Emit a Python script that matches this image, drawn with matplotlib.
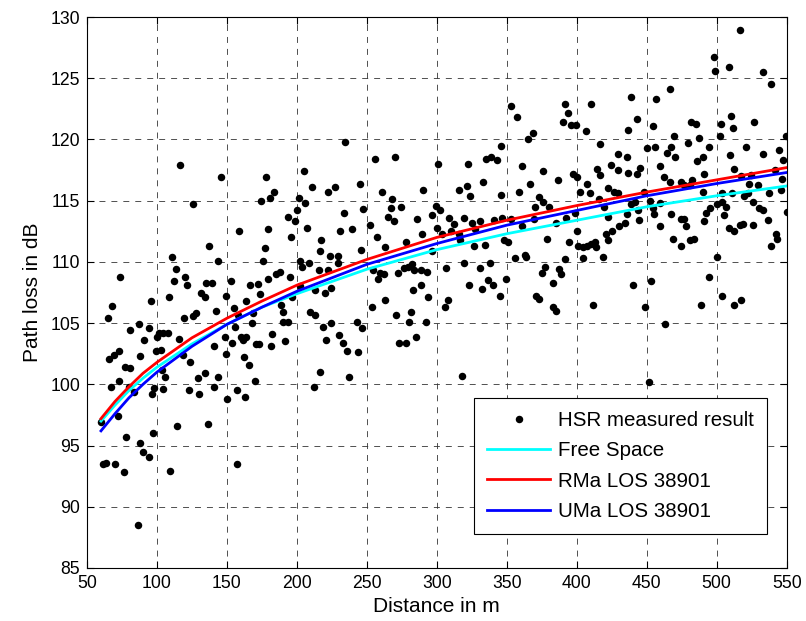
import numpy as np
import matplotlib.pyplot as plt

plt.rcParams['font.family'] = ['Liberation Sans', 'DejaVu Sans']
plt.rcParams['lines.scale_dashes'] = False

# measured points (distance in m, path loss in dB)
dist_m = [73.8, 67.9, 64.8, 87.4, 80.5, 90.5, 65.5, 69.0, 72.6, 87.6, 77.4, 80.5, 72.6, 67.1, 79.8, 83.8,
          60.2, 71.9, 78.1, 88.1, 90.0, 61.4, 63.8, 70.2, 76.2, 86.4,
          116.7, 145.7, 126.0, 137.4, 110.7, 143.3, 113.6, 120.2, 112.4, 121.4, 135.0, 139.0, 131.4, 134.3,
          108.8, 95.7, 142.1, 127.9, 125.5, 119.0, 94.5, 101.2, 104.0, 107.6, 100.0, 116.0, 141.0, 99.3,
          102.9, 118.3, 123.8, 103.6, 106.0, 134.5, 129.0, 143.3, 104.0, 141.0, 122.6, 98.0, 96.4, 130.2,
          114.3, 136.2, 96.9, 94.0, 109.5,
          178.1, 183.6, 174.5, 180.5, 193.6, 158.3, 179.3, 195.5, 176.9, 175.7, 187.6, 185.2, 194.8, 179.3,
          152.6, 166.2, 172.1, 149.5, 173.3, 163.8, 188.8, 190.0, 155.0, 168.6, 157.9, 190.0, 193.6, 167.9,
          156.0, 182.4, 159.8, 163.8, 161.4, 148.3, 153.6, 171.0, 172.9, 181.7, 191.7, 149.5, 162.1, 165.5,
          169.8, 157.4, 150.2, 162.6, 157.4,
          234.5, 204.8, 210.7, 222.1, 226.9, 245.2, 201.2, 206.0, 200.0, 198.8, 234.0, 246.9, 207.1, 217.4,
          231.0, 239.3, 246.0, 216.7, 202.4, 208.3, 203.6, 223.8, 229.3, 229.3, 215.5, 222.1, 202.4, 213.1,
          219.8, 224.5, 196.4, 209.5, 213.1, 219.0, 224.5, 221.0, 229.8, 232.6, 235.7, 242.9, 246.4, 244.0,
          216.2, 211.9, 236.9,
          255.8, 269.8, 260.9, 290.2, 267.9, 266.9, 274.4, 265.1, 269.3, 252.3, 286.0, 296.5, 299.5, 301.9,
          300.0, 289.1, 257.0, 263.3, 277.9, 296.5, 254.7, 257.7, 259.3, 262.3, 272.1, 276.7, 279.1, 281.9,
          283.7, 288.4, 293.0, 282.6, 288.4, 293.7, 263.3, 253.5, 270.9, 281.4, 280.2, 292.6, 272.6, 277.9,
          284.9,
          300.7, 322.4, 334.9, 338.5, 343.3, 345.7, 352.9, 332.9, 315.6, 321.6, 324.0, 345.7, 308.4, 312.0,
          319.2, 324.8, 330.5, 327.6, 340.9, 346.9, 303.6, 310.3, 315.6, 316.8, 326.4, 334.4, 348.1, 350.5,
          306.5, 319.2, 330.5, 337.7, 322.8, 336.8, 340.1, 332.0, 349.3, 345.0, 307.9, 305.5, 318.0,
          357.3, 391.5, 393.9, 390.2, 395.6, 399.5, 365.4, 368.8, 360.5, 375.6, 386.6, 366.3, 397.1, 400.5,
          358.5, 402.4, 372.7, 376.1, 380.0, 370.2, 353.2, 360.5, 369.5, 384.9, 392.2, 398.8, 400.0, 378.5,
          394.6, 401.2, 355.6, 362.9, 363.9, 391.5, 377.6, 375.1, 387.3, 389.0, 382.9, 371.2, 373.2, 382.9,
          384.9,
          438.4, 410.5, 406.5, 443.0, 436.7, 416.7, 429.1, 436.0, 450.0, 424.4, 429.8, 436.7, 414.4, 416.7,
          443.0, 445.3, 407.4, 409.3, 422.1, 426.7, 429.1, 447.7, 441.4, 438.4, 415.8, 419.8, 422.1, 436.0,
          434.4, 430.2, 425.1, 422.1, 420.9, 443.7, 444.7, 404.2, 407.0, 409.8, 412.8, 414.0, 418.6, 404.2,
          440.0, 411.6, 448.8, 451.5,
          497.8, 499.0, 466.4, 456.8, 454.8, 481.4, 485.0, 502.7, 502.0, 469.3, 479.5, 487.4, 494.7, 456.0,
          464.5, 467.4, 470.5, 489.9, 485.7, 459.7, 490.6, 462.1, 466.4, 474.2, 476.6, 482.6, 480.9, 489.9,
          452.4, 459.7, 454.8, 455.3, 467.4, 459.7, 474.2, 476.6, 477.8, 468.8, 474.2, 481.1, 483.6, 492.3,
          495.4, 490.6, 500.2, 500.2, 494.7, 489.1, 503.6, 453.0, 463.3,
          516.7, 508.5, 533.1, 539.1, 510.1, 511.8, 526.3, 549.5, 521.0, 509.4, 533.1, 544.7, 547.6, 512.6,
          517.4, 524.6, 522.9, 529.5, 541.5, 546.4, 504.0, 503.5, 510.9, 519.8, 522.2, 537.4, 545.9, 525.8,
          530.2, 533.1, 536.7, 550.0, 506.5, 505.3, 508.9, 512.6, 516.7, 519.1, 525.8, 542.3, 543.2, 539.1,
          512.0, 517.0]
loss_db = [108.8, 106.4, 105.4, 104.9, 104.4, 103.6, 102.1, 102.4, 102.7, 102.3, 101.4, 101.3, 100.3, 99.8, 99.8, 99.4,
           96.9, 97.4, 95.7, 95.2, 94.5, 93.5, 93.6, 93.5, 92.8, 88.5,
           117.9, 116.9, 114.7, 111.3, 110.4, 110.1, 109.4, 108.8, 108.4, 108.1, 108.3, 108.3, 107.5, 107.1,
           107.1, 106.8, 106.0, 105.8, 105.6, 105.4, 104.6, 104.2, 104.2, 104.2, 103.9, 103.7, 103.1, 102.7,
           102.8, 102.4, 101.8, 101.2, 100.6, 100.9, 100.5, 100.6, 99.6, 99.8, 99.5, 99.7, 99.2, 99.2,
           96.6, 96.8, 96.0, 94.1, 92.9,
           116.9, 115.7, 115.0, 115.2, 113.7, 112.5, 112.7, 112.0, 111.1, 110.1, 109.2, 109.0, 108.8, 108.6,
           108.4, 108.1, 108.2, 107.2, 107.4, 106.8, 106.5, 105.9, 106.2, 105.8, 105.7, 105.1, 105.1, 105.0,
           104.7, 104.1, 103.9, 103.9, 103.6, 103.9, 103.4, 103.3, 103.3, 103.1, 103.5, 102.5, 102.2, 101.6,
           100.3, 99.5, 98.8, 99.0, 93.5,
           119.8, 117.4, 116.1, 115.7, 116.1, 116.4, 115.2, 114.8, 114.2, 113.3, 114.0, 114.3, 112.8, 111.8,
           112.5, 112.7, 111.0, 110.9, 110.1, 109.9, 109.6, 110.5, 110.5, 109.9, 109.3, 109.3, 108.0, 107.7,
           107.5, 107.9, 107.1, 105.9, 105.7, 104.7, 105.0, 103.6, 104.0, 103.4, 102.7, 105.1, 104.6, 102.6,
           101.0, 99.8, 100.6,
           118.4, 118.6, 115.7, 115.9, 115.1, 114.4, 114.5, 113.7, 113.3, 113.0, 113.5, 113.8, 114.6, 114.2,
           112.8, 112.3, 112.0, 111.2, 111.6, 110.9, 109.3, 108.6, 109.1, 109.0, 109.1, 109.5, 109.6, 109.8,
           109.3, 109.3, 109.2, 107.7, 108.1, 107.1, 106.9, 106.3, 105.7, 105.9, 105.1, 105.1, 103.4, 103.4,
           103.9,
           118.0, 118.0, 118.4, 118.6, 118.3, 119.5, 122.7, 116.5, 115.9, 116.2, 115.4, 115.5, 113.6, 113.1,
           113.6, 113.2, 113.3, 112.7, 113.4, 113.6, 112.3, 112.5, 112.3, 111.8, 111.3, 111.4, 111.8, 111.6,
           109.5, 109.9, 109.5, 109.9, 108.1, 108.5, 108.1, 107.8, 108.6, 107.2, 106.9, 106.3, 100.7,
           121.8, 122.9, 122.2, 121.4, 121.2, 121.2, 120.0, 120.5, 117.8, 117.4, 116.7, 116.4, 117.2, 116.9,
           115.7, 115.7, 115.3, 114.9, 114.5, 114.5, 113.5, 112.9, 113.5, 113.2, 113.6, 114.0, 112.5, 111.9,
           111.6, 111.3, 110.3, 110.6, 110.4, 110.2, 109.6, 109.1, 109.4, 109.0, 108.3, 107.2, 107.0, 106.3,
           106.0,
           123.5, 122.9, 120.7, 121.7, 120.8, 119.6, 118.8, 118.6, 119.3, 117.9, 117.5, 117.3, 117.6, 117.1,
           117.2, 117.7, 116.4, 115.6, 116.0, 115.7, 115.6, 115.7, 114.9, 114.7, 115.1, 114.5, 113.7, 113.9,
           113.2, 112.9, 112.5, 111.8, 112.3, 114.2, 113.4, 111.2, 111.3, 111.5, 111.6, 111.2, 110.4, 110.3,
           108.1, 106.5, 106.3, 100.2,
           126.7, 125.6, 124.1, 123.3, 121.1, 121.4, 121.3, 121.3, 120.3, 120.3, 119.7, 120.1, 119.4, 119.4,
           118.9, 119.4, 118.6, 118.6, 118.2, 117.8, 117.2, 116.9, 116.5, 116.5, 116.3, 116.7, 116.3, 115.7,
           115.0, 114.8, 114.4, 113.9, 113.9, 112.9, 113.5, 113.5, 112.9, 111.9, 111.3, 111.8, 111.9, 114.0,
           114.4, 113.3, 114.7, 110.4, 108.8, 106.5, 107.2, 108.4, 104.9,
           128.9, 125.9, 125.5, 124.5, 121.9, 120.9, 121.4, 120.3, 119.4, 118.7, 118.8, 119.1, 118.3, 117.6,
           117.0, 117.1, 116.4, 116.3, 117.5, 116.8, 114.9, 115.6, 115.6, 115.4, 115.6, 115.6, 115.9, 114.9,
           114.4, 114.2, 113.4, 114.1, 114.5, 113.8, 112.8, 112.5, 113.0, 113.1, 113.0, 112.3, 111.9, 111.3,
           106.5, 106.9]

# model curves
curve_d = [60, 70, 80, 90, 100, 125, 150, 175, 200, 250, 300, 350, 400, 450, 500, 550]
free_space = [97.0, 98.3, 99.5, 100.5, 101.4, 103.3, 104.9, 106.3, 107.4, 109.4, 111.0, 112.3, 113.4, 114.5, 115.4, 116.2]
rma_los = [97.2, 98.6, 99.8, 100.9, 101.8, 103.8, 105.4, 106.8, 108.1, 110.2, 112.0, 113.4, 114.6, 115.7, 116.7, 117.7]
uma_los = [96.2, 97.6, 98.9, 100.0, 101.0, 103.1, 104.9, 106.3, 107.6, 109.8, 111.5, 113.0, 114.2, 115.4, 116.4, 117.3]

fig = plt.figure(figsize=(8.06, 6.21), dpi=100)
ax = fig.add_axes([87 / 806, 1 - 568 / 621, 699.7 / 806, 551 / 621])

ax.plot(dist_m, loss_db, 'o', color='k', markersize=5.4, markeredgewidth=0, label='HSR measured result')
ax.plot(curve_d, free_space, color='cyan', linewidth=2, label='Free Space')
ax.plot(curve_d, rma_los, color='red', linewidth=2, label='RMa LOS 38901')
ax.plot(curve_d, uma_los, color='blue', linewidth=2, label='UMa LOS 38901')

ax.set_xlim(50, 550)
ax.set_ylim(85, 130)
ax.set_xticks(np.arange(50, 551, 50))
ax.set_yticks(np.arange(85, 131, 5))
ax.grid(True, linestyle=(0, (4.3, 4.3)), color='0.2', linewidth=0.6)
ax.tick_params(direction='in', top=True, right=True, length=5, width=0.8, labelsize=12.7, pad=5)
for sp in ax.spines.values():
    sp.set_linewidth(0.8)

ax.set_xlabel('Distance in m', fontsize=15, labelpad=4)
ax.set_ylabel('Path loss in dB', fontsize=15, labelpad=6)

leg = ax.legend(loc='upper right', bbox_to_anchor=((767 - 87) / 699.7, (568 - 398) / 551),
                borderaxespad=0, fontsize=14.8, numpoints=1, handlelength=3.07, handletextpad=0.39,
                labelspacing=0.55, borderpad=0.63, fancybox=False, edgecolor='k', framealpha=1)
leg.get_frame().set_linewidth(0.8)

fig.savefig('out.png', dpi=100)
